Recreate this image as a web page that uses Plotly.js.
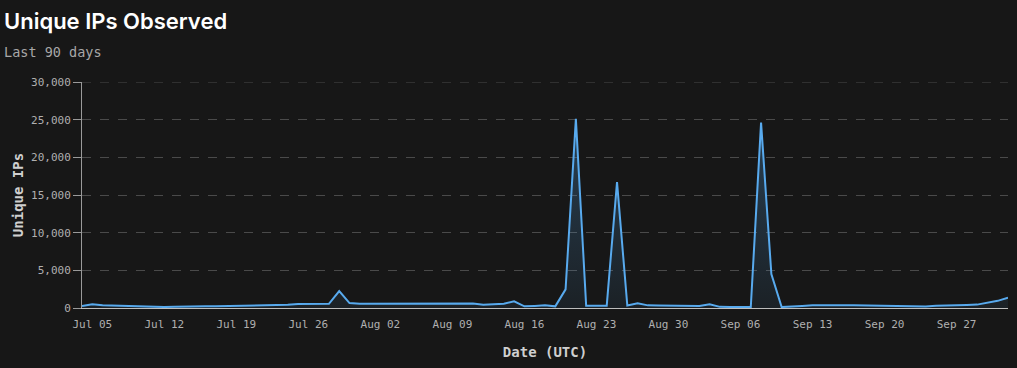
<!DOCTYPE html>
<html>
<head>
<meta charset="utf-8">
<script src="https://cdn.plot.ly/plotly-3.0.1.min.js"></script>
<style>
html,body{margin:0;padding:0;background:#171717;}
#chart{width:1017px;height:368px;}
</style>
</head>
<body>
<div id="chart"></div>
<script>
const startDate = '2025-07-04';
const uniqueIPs = [
  270, 490, 380, 330, 270, 200, 150, 130, 130, 150,
  200, 220, 230, 230, 250, 260, 290, 300, 380, 420,
  420, 530, 530, 490, 560, 2250, 650, 560,
  560, 570, 570, 590, 600, 580, 560, 550, 580, 540,
  600, 440, 540, 570, 880, 220, 280, 350, 220, 2480,
  25100, 300, 300, 310, 16700, 330, 620, 350, 330, 320,
  310, 300, 270, 480, 150, 140, 130, 130, 24600, 4500,
  130, 250, 270, 350, 380, 380, 370, 350, 330, 320,
  310, 320, 300, 180, 200, 310, 310, 320, 400, 450,
  650, 950, 1370
];
const titleText = 'Unique IPs Observed';
const subtitleText = 'Last 90 days';
const xTitle = 'Date (UTC)';
const yTitle = 'Unique IPs';
const yMax = 30000;

function addDays(iso, n) {
  const d = new Date(iso + 'T00:00:00Z');
  d.setUTCDate(d.getUTCDate() + n);
  return d.toISOString().slice(0, 10);
}
const dates = uniqueIPs.map((_, i) => addDays(startDate, i));

const mono = 'DejaVu Sans Mono, monospace';

const trace = {
  x: dates,
  y: uniqueIPs,
  type: 'scatter',
  mode: 'lines',
  line: {color: '#58aaee', width: 2},
  fill: 'tozeroy',
  fillgradient: {
    type: 'vertical',
    colorscale: [[0, 'rgba(85,168,236,0.07)'], [1, 'rgba(85,168,236,0.28)']]
  },
  hoverinfo: 'x+y'
};

const layout = {
  width: 1017,
  height: 368,
  paper_bgcolor: '#171717',
  plot_bgcolor: '#171717',
  margin: {l: 82, r: 9, t: 82, b: 60},
  showlegend: false,
  annotations: [
    {
      text: titleText, xref: 'paper', yref: 'paper',
      x: -0.0866, y: 1.27, xanchor: 'left', yanchor: 'middle', showarrow: false,
      font: {family: 'Inter, sans-serif', size: 22, color: '#ffffff', weight: 600}
    },
    {
      text: subtitleText, xref: 'paper', yref: 'paper',
      x: -0.0866, y: 1.133, xanchor: 'left', yanchor: 'middle', showarrow: false,
      font: {family: mono, size: 13.5, color: '#a8a8a8'}
    }
  ],
  shapes: [
    {type: 'line', xref: 'paper', yref: 'y', x0: 0, x1: 1, y0: yMax, y1: yMax,
     line: {color: '#4a4a4a', width: 1, dash: 'dash'}, layer: 'below'}
  ],
  xaxis: {
    type: 'date',
    range: [dates[0], dates[dates.length - 1]],
    tick0: '2025-07-05',
    dtick: 7 * 24 * 3600 * 1000,
    tickformat: '%b %d',
    tickfont: {family: mono, size: 11, color: '#b0b0b0'},
    showgrid: false,
    zeroline: false,
    showline: true,
    linecolor: '#bdbdbd',
    linewidth: 1,
    ticks: 'outside',
    ticklen: 6,
    tickcolor: 'rgba(0,0,0,0)',
    title: {text: xTitle, font: {family: mono, size: 14, color: '#cfcfcf', weight: 'bold'}, standoff: 16}
  },
  yaxis: {
    range: [0, yMax],
    dtick: 5000,
    tickformat: ',d',
    tickfont: {family: mono, size: 11, color: '#b0b0b0'},
    showgrid: true,
    gridcolor: '#4a4a4a',
    griddash: 'dash',
    gridwidth: 1,
    zeroline: false,
    showline: true,
    linecolor: '#9a9a9a',
    linewidth: 1,
    ticks: 'outside',
    ticklen: 8,
    tickcolor: '#9a9a9a',
    title: {text: yTitle, font: {family: mono, size: 14, color: '#cfcfcf', weight: 'bold'}, standoff: 4}
  }
};

Plotly.newPlot('chart', [trace], layout, {displayModeBar: false, staticPlot: true});
</script>
</body>
</html>
